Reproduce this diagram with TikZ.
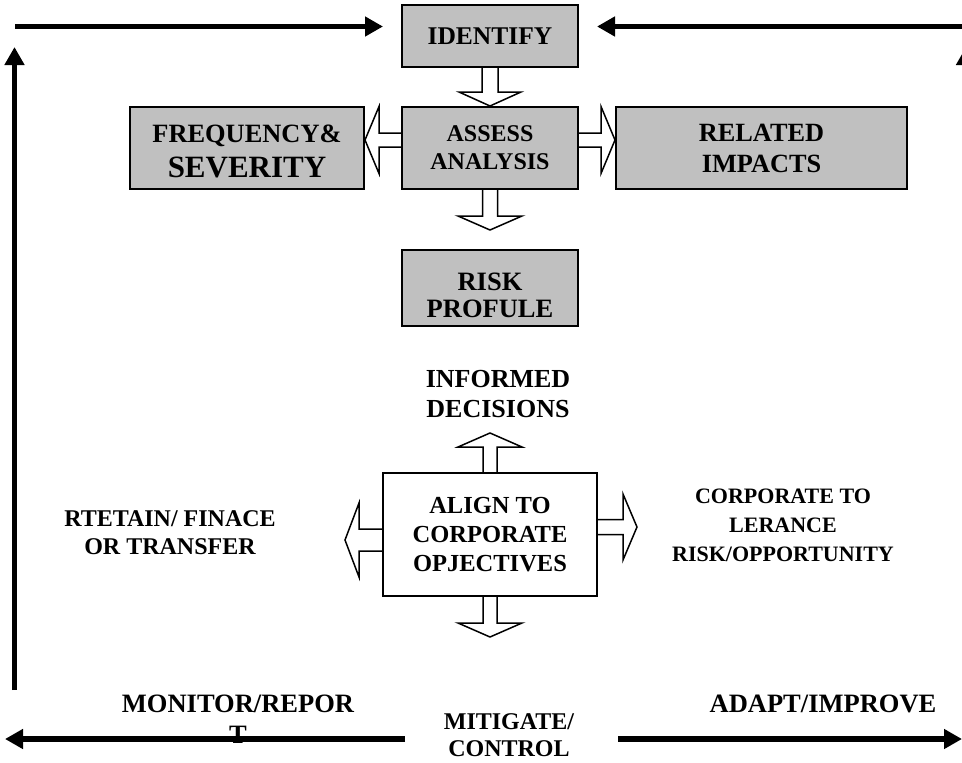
\documentclass[tikz,border=0pt]{standalone}
\usepackage{fontspec}
\setmainfont{Liberation Serif}
\usetikzlibrary{arrows.meta,calc}
\definecolor{boxgray}{HTML}{C0C0C0}
\tikzset{
  box/.style={draw, line width=2pt, fill=boxgray, minimum width=176pt, minimum height=62pt,
    inner sep=0pt, align=center, font=\bfseries\fontsize{25.5}{30}\selectfont},
  lbl/.style={align=center, inner sep=0pt, font=\bfseries\fontsize{26}{30}\selectfont},
  bigarrow/.style={line width=5.5pt, -{Triangle[length=18pt,width=19pt]}},
  hollow/.style={line width=1.5pt, line join=miter}
}
% hollow block arrows: start, tip, shaft half width, head half width
\newcommand{\arrdown}[4]{\draw[hollow] let \p1=(#1), \p2=(#2) in
  (\x1-#3pt,\y1) -- (\x1-#3pt,\y2+14pt) -- (\x1-#4pt,\y2+14pt) -- (\x1,\y2)
  -- (\x1+#4pt,\y2+14pt) -- (\x1+#3pt,\y2+14pt) -- (\x1+#3pt,\y1);}
\newcommand{\arrup}[4]{\draw[hollow] let \p1=(#1), \p2=(#2) in
  (\x1-#3pt,\y1) -- (\x1-#3pt,\y2-14pt) -- (\x1-#4pt,\y2-14pt) -- (\x1,\y2)
  -- (\x1+#4pt,\y2-14pt) -- (\x1+#3pt,\y2-14pt) -- (\x1+#3pt,\y1);}
\newcommand{\arrleft}[4]{\draw[hollow] let \p1=(#1), \p2=(#2) in
  (\x1,\y1+#3pt) -- (\x2+14pt,\y1+#3pt) -- (\x2+14pt,\y1+#4pt) -- (\x2,\y1)
  -- (\x2+14pt,\y1-#4pt) -- (\x2+14pt,\y1-#3pt) -- (\x1,\y1-#3pt);}
\newcommand{\arrright}[4]{\draw[hollow] let \p1=(#1), \p2=(#2) in
  (\x1,\y1+#3pt) -- (\x2-14pt,\y1+#3pt) -- (\x2-14pt,\y1+#4pt) -- (\x2,\y1)
  -- (\x2-14pt,\y1-#4pt) -- (\x2-14pt,\y1-#3pt) -- (\x1,\y1-#3pt);}
\begin{document}
\begin{tikzpicture}[x=1pt, y=-1pt]
\useasboundingbox (0,0) rectangle (962,763);
\clip (0,0) rectangle (962,763);
%
\node[box] (identify) at (490,36) {IDENTIFY};
\node[box, minimum height=82pt, font=\bfseries\fontsize{24}{28}\selectfont] (assess) at (490,148) {ASSESS\\ANALYSIS};
\node[box, minimum width=234pt, minimum height=82pt, font=\bfseries\fontsize{26.4}{35}\selectfont] (freq) at (247,148)
  {\rule{0pt}{24pt}FREQUENCY\&\\{\fontsize{31}{35}\selectfont SEVERITY}};
\node[box, minimum width=291pt, minimum height=82pt, font=\bfseries\fontsize{26.3}{31}\selectfont] (related) at (761.5,148) {RELATED\\IMPACTS};
\node[box, minimum height=76pt, font=\bfseries\fontsize{26.5}{27}\selectfont] (risk) at (490,288) {\rule{0pt}{32pt}RISK\\PROFULE};
\node[box, fill=white, minimum width=214pt, minimum height=123pt, font=\bfseries\fontsize{24.5}{29}\selectfont] (align) at (490,534.5)
  {ALIGN TO\\CORPORATE\\OPJECTIVES};
%
\node[lbl] (informed) at (498,394.5) {INFORMED\\DECISIONS};
\node[lbl, font=\bfseries\fontsize{24}{28}\selectfont] (retain) at (170,532.5) {RTETAIN/ FINACE\\OR TRANSFER};
\node[lbl, font=\bfseries\fontsize{22}{29}\selectfont] (corporate) at (783,525) {CORPORATE TO\\LERANCE\\RISK/OPPORTUNITY};
\node[lbl, font=\bfseries\fontsize{26.5}{31}\selectfont] (monitor) at (238,719) {MONITOR/REPOR\\T};
\node[lbl, font=\bfseries\fontsize{26.5}{31}\selectfont] (adapt) at (823,703.5) {ADAPT/IMPROVE};
\node[lbl, font=\bfseries\fontsize{24}{27}\selectfont] (mitigate) at (509,735.5) {MITIGATE/\\CONTROL};
%
\coordinate (risktip) at (490,230);
\coordinate (uptip) at (490,433);
\coordinate (downtip) at (490,637);
\coordinate (lefttip) at (345,540);
\coordinate (righttip) at (637,527);
%
\arrdown{identify.south}{assess.north}{8}{31}
\arrdown{assess.south}{risktip}{7.5}{32}
\arrleft{$(assess.west)+(0,-8)$}{freq.east}{7}{33.5}
\arrright{$(assess.east)+(0,-8)$}{related.west}{7}{33.5}
\arrup{align.north}{uptip}{7}{32}
\arrdown{align.south}{downtip}{7}{32}
\arrleft{$(align.west)+(0,5.5)$}{lefttip}{11}{37}
\arrright{$(align.east)+(0,-7.5)$}{righttip}{7.5}{33}
%
\coordinate (tla) at (15,26.5); \coordinate (tlb) at (383,26.5);
\coordinate (tra) at (962,26.5); \coordinate (trb) at (597,26.5);
\coordinate (lva) at (14.5,690); \coordinate (lvb) at (14.5,47);
\coordinate (rva) at (966,700); \coordinate (rvb) at (966,47);
\coordinate (bla) at (405,739); \coordinate (blb) at (5,739);
\coordinate (bra) at (618,739); \coordinate (brb) at (962,739);
\draw[bigarrow] (tla) -- (tlb); % loop arrows
\draw[bigarrow] (tra) -- (trb);
\draw[bigarrow] (lva) -- (lvb);
\draw[bigarrow] (rva) -- (rvb);
\draw[bigarrow] (bla) -- (blb);
\draw[bigarrow] (bra) -- (brb);
\end{tikzpicture}
\end{document}
